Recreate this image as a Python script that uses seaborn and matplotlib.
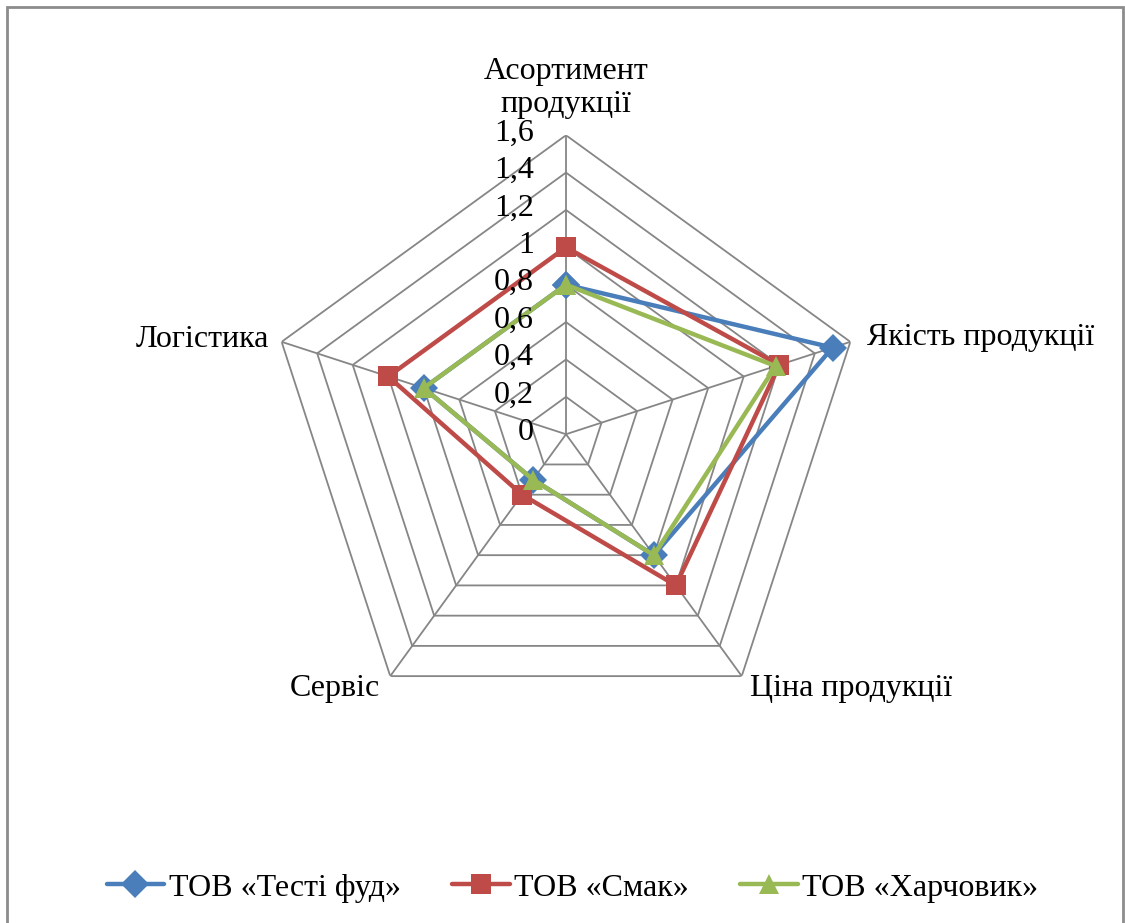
import numpy as np
import pandas as pd
import matplotlib
matplotlib.use("Agg")
import matplotlib.pyplot as plt
import matplotlib.transforms as mtransforms
from matplotlib.patches import Rectangle
import seaborn as sns

# dados do gráfico
categorias = ["Асортимент\nпродукції", "Якість продукції", "Ціна продукції", "Сервіс", "Логістика"]
series = ["ТОВ «Тесті фуд»", "ТОВ «Смак»", "ТОВ «Харчовик»"]
testi_fud = [0.8, 1.5, 0.8, 0.3, 0.8]
smak = [1.0, 1.2, 1.0, 0.4, 1.0]
harchovyk = [0.8, 1.18, 0.8, 0.3, 0.8]
niveis = [0, 0.2, 0.4, 0.6, 0.8, 1.0, 1.2, 1.4, 1.6]
rotulos_niveis = ["0", "0,2", "0,4", "0,6", "0,8", "1", "1,2", "1,4", "1,6"]

sns.set_style("white")
plt.rcParams["font.family"] = ["Liberation Serif", "DejaVu Serif"]
plt.rcParams["text.color"] = "black"

n = len(categorias)
angulos = np.linspace(0, 2 * np.pi, n, endpoint=False)
ang_fech = np.append(angulos, angulos[0])

linhas = []
for nome, vals in zip(series, [testi_fud, smak, harchovyk]):
    v = list(vals) + [vals[0]]
    for i, (a, r) in enumerate(zip(ang_fech, v)):
        linhas.append({"serie": nome, "theta": a + (2 * np.pi if i == n else 0), "r": r, "ordem": i})
df = pd.DataFrame(linhas)

cores = {series[0]: "#4A7EBB", series[1]: "#BE4B48", series[2]: "#98B954"}
marcadores = {series[0]: "D", series[1]: "s", series[2]: "^"}

fig = plt.figure(figsize=(11.25, 9.23), dpi=100)
ax = fig.add_axes([0.2373, 0.2056, 0.5316, 0.6479], polar=True)
ax.set_theta_offset(np.pi / 2)
ax.set_theta_direction(-1)

cinza = "#868686"
# grade pentagonal
for nv in niveis[1:]:
    ax.plot(ang_fech, [nv] * (n + 1), color=cinza, lw=1.3, zorder=1)
for a in angulos:
    ax.plot([a, a], [0, niveis[-1]], color=cinza, lw=1.3, zorder=1)

sns.lineplot(data=df, x="theta", y="r", hue="serie", style="serie", sort=False,
             palette=cores, markers=marcadores, dashes=False, lw=3.2,
             markersize=14, markeredgewidth=0, ax=ax, zorder=3)

ax.set_ylim(0, 1.6)
ax.set_xticks([])
ax.set_yticks([])
ax.grid(False)
ax.spines["polar"].set_visible(False)
ax.set_xlabel("")
ax.set_ylabel("")
ax.patch.set_alpha(0)

fs = 23
# rótulos radiais
tr_r = mtransforms.offset_copy(ax.transData, fig=fig, x=-32, y=2, units="dots")
for nv, txt in zip(niveis, rotulos_niveis):
    ax.text(0, nv, txt, transform=tr_r, ha="right", va="center", fontsize=fs, color="black")

# rótulos das categorias
desloc = [(0, 47, "center"), (17, 4, "left"), (8, -12, "left"), (-10, -12, "right"), (-13, 2, "right")]
for a, cat, (dx, dy, ha) in zip(angulos, categorias, desloc):
    tr = mtransforms.offset_copy(ax.transData, fig=fig, x=dx, y=dy, units="dots")
    ax.text(a, 1.6, cat, transform=tr, ha=ha, va="center", fontsize=fs, linespacing=1.2, color="black")

sns.move_legend(ax, "center", bbox_to_anchor=(0.509, 0.038), bbox_transform=fig.transFigure,
                ncol=3, frameon=False, title=None, fontsize=fs, handlelength=1.8,
                handletextpad=0.15, columnspacing=1.6)
for h in ax.get_legend().legend_handles:
    h.set_linewidth(3.2)
    h.set_markersize(14)
    h.set_markeredgewidth(0)
for t in ax.get_legend().get_texts():
    t.set_color("black")

fig.patches.append(Rectangle((7 / 1125, -0.01), 1116 / 1125, 1.01 - 7 / 923,
                             transform=fig.transFigure, fill=False, edgecolor="#8c8c8c", lw=2))

fig.savefig("out.png", dpi=100)
